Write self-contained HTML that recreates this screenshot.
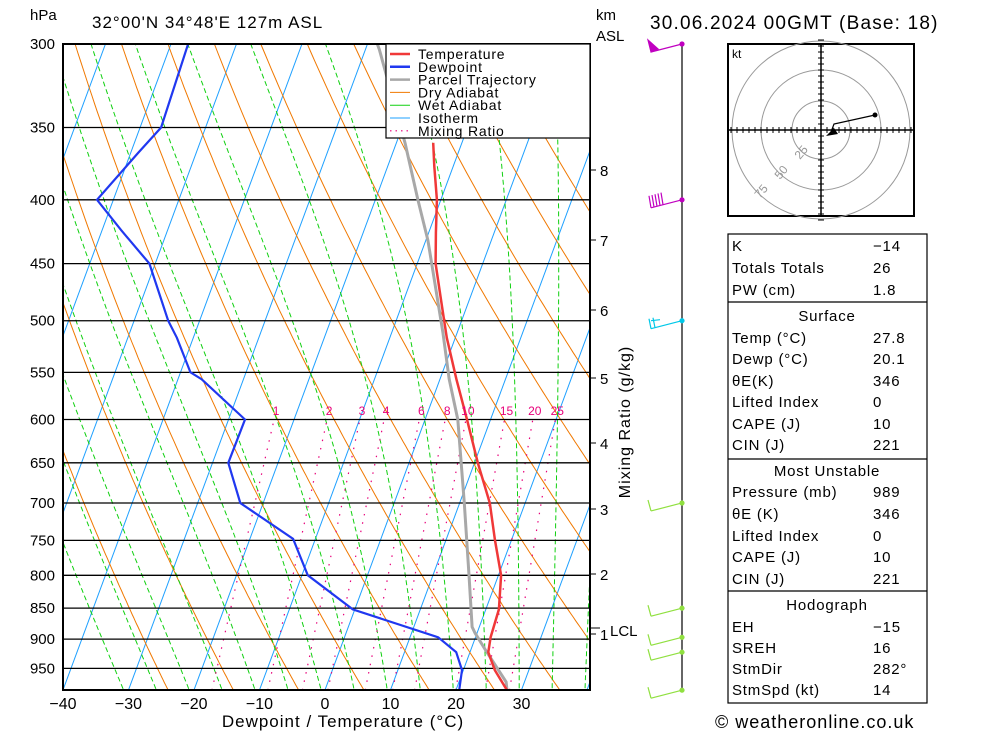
<!DOCTYPE html>
<html><head><meta charset="utf-8">
<style>
body{margin:0;background:#fff;}
svg{display:block;font-family:"Liberation Sans",sans-serif;}
</style></head>
<body>
<svg id="chart" width="1000" height="733" viewBox="0 0 1000 733" xmlns="http://www.w3.org/2000/svg">
<defs><clipPath id="plotclip"><rect x="63" y="44" width="527" height="646"/></clipPath></defs>
<g id="bg" clip-path="url(#plotclip)"></g>
<g id="plines"></g>
<g id="profiles" clip-path="url(#plotclip)"></g>
<rect x="63" y="44" width="527" height="646" fill="none" stroke="#000" stroke-width="2"/>
<g id="legend">
<rect x="386" y="44" width="204" height="94" fill="#fff" stroke="#000" stroke-width="1.2"/>
</g>
<g id="ylabels" font-size="15" text-anchor="end"></g>
<g id="xlabels" font-size="16" text-anchor="middle"></g>
<text x="30" y="20" font-size="15">hPa</text>
<text x="92" y="28" font-size="17" letter-spacing="1">32°00'N  34°48'E  127m  ASL</text>
<text x="596" y="20" font-size="15">km</text>
<text x="596" y="41" font-size="15">ASL</text>
<text x="650" y="29" font-size="19" letter-spacing="1.2">30.06.2024  00GMT  (Base: 18)</text>
<text x="343" y="727" font-size="17" text-anchor="middle" letter-spacing="1">Dewpoint / Temperature (°C)</text>
<text x="715" y="728" font-size="18" letter-spacing="1">© weatheronline.co.uk</text>
<text transform="translate(630,422) rotate(-90)" font-size="16" text-anchor="middle" letter-spacing="1">Mixing Ratio (g/kg)</text>
<g id="km"></g>
<g id="wind"></g>
<g id="hodo"></g>
<g id="table" font-size="15" letter-spacing="0.8"></g>
</svg>
<script>
const NS="http://www.w3.org/2000/svg";
// ---- data ----
const pressureLevels=[300,350,400,450,500,550,600,650,700,750,800,850,900,950];
const tempTicks=[-40,-30,-20,-10,0,10,20,30];
const tempP=[360,376,400,425,450,487,516,557,600,650,700,750,800,852,897,922,953,989];
const tempT=[-14.4,-12.9,-10.6,-8.9,-7.2,-3.8,-1.3,2.5,6.4,10.5,14.6,17.5,20.4,22.0,22.3,22.8,24.8,27.8];
const dewP=[300,350,367,400,423,450,500,516,550,557,600,650,700,748,800,852,897,922,953,989];
const dewT=[-57.4,-56.8,-58.9,-62.5,-57.1,-50.9,-44.8,-42.5,-38.5,-36.4,-27.5,-27.6,-23.5,-13.4,-9.1,-0.3,14.3,17.9,19.8,20.5];
const parcelP=[300,303,360,400,431,511,557,600,700,802,880,890,920,974,989];
const parcelT=[-28.5,-27.9,-18.7,-13.5,-9.7,-2.2,1.4,5.0,10.7,15.6,18.9,19.7,22.4,27.2,27.8];
const mixRatios=[1,2,3,4,6,8,10,15,20,25];
const kmLabels=[1,2,3,4,5,6,7,8];
const kmY=[634,574,509,443,378,310,240,170];
const windP=[300,400,500,700,850,897,922,989];
const windCol=["#c000c0","#c000c0","#00c8e8","#90e040","#90e040","#90e040","#90e040","#90e040"];
// ---- axes ----
function yP(p){return 44+541.7*Math.log(p/300);}
function xT(t,p){return 325+6.55*t+0.37*(690-yP(p));}
function el(tag,attrs,parent){const e=document.createElementNS(NS,tag);for(const k in attrs)e.setAttribute(k,attrs[k]);parent.appendChild(e);return e;}
const bg=document.getElementById('bg');
function polyFrom(pts,stroke,w,dash,parent,name){
  const d=pts.map((q,i)=>(i?'L':'M')+q[0].toFixed(1)+' '+q[1].toFixed(1)).join(' ');
  const e=el('path',{d:d,fill:'none',stroke:stroke,'stroke-width':w},parent);
  if(dash)e.setAttribute('stroke-dasharray',dash);
  
  
  return e;
}
const pGrid=[];for(let p=280;p<=1000;p+=5)pGrid.push(p);
// isotherms
for(let t=-130;t<=50;t+=10){
  polyFrom([[xT(t,1000),yP(1000)],[xT(t,280),yP(280)]],'#1ea0ff',1,null,bg,'isotherm');
}
// dry adiabats
for(let th=250;th<=470;th+=10){
  polyFrom(pGrid.map(p=>[xT(th*Math.pow(p/1000,0.2857)-273.15,p),yP(p)]),'#f07800',1,null,bg,'dry-adiabat');
}
// wet adiabats
function es(t){return 6.112*Math.exp(17.67*t/(t+243.5));}
function moist(tC,p){const T=tC+273.15;const rs=0.622*es(tC)/(p-es(tC));const Lv=2.5e6,Rd=287,cp=1005;
  return (Rd*T+Lv*rs)/(p*(cp+Lv*Lv*rs*0.622/(Rd*T*T)));}
for(let tw=-30;tw<=45;tw+=5){
  let t=tw,pts=[];
  for(let p=1000;p>=280;p-=2){pts.push([xT(t,p),yP(p)]);t-=moist(t,p)*2;}
  polyFrom(pts,'#10d010',1,'5,3',bg,'wet-adiabat');
}
// mixing ratio lines
function tdFromW(w,p){const e=w*p/(622+w);const a=Math.log(e/6.112);return 243.5*a/(17.67-a);}
mixRatios.forEach(w=>{
  polyFrom([[xT(tdFromW(w,989),989),yP(989)],[xT(tdFromW(w,600),600),yP(600)]],'#e8007a',1.2,'1.5,7',bg,'mixing-ratio-line');
  const lb=el('text',{x:xT(tdFromW(w,600),600)+2,y:415,'font-size':12,fill:'#e8007a','text-anchor':'middle'},document.getElementById('chart'));
  lb.textContent=w;
  
  
});
// pressure grid & labels
const pl=document.getElementById('plines'),yl=document.getElementById('ylabels');
pressureLevels.forEach(p=>{
  const l=el('line',{x1:63,x2:590,y1:yP(p),y2:yP(p),stroke:'#000','stroke-width':1.3},pl);
  
  
  const t=el('text',{x:55,y:yP(p)+5},yl);t.textContent=p;
  
  
});
const xl=document.getElementById('xlabels');
tempTicks.forEach(t=>{
  const tx=el('text',{x:325+6.55*t,y:709},xl);tx.textContent=(t<0?'\u2212':'')+Math.abs(t);
  
  
});
// profiles
const pr=document.getElementById('profiles');
polyFrom(parcelP.map((p,i)=>[xT(parcelT[i],p),yP(p)]),'#a8a8a8',3,null,pr,'parcel-trajectory-line');
polyFrom(dewP.map((p,i)=>[xT(dewT[i],p),yP(p)]),'#2038f0',2.2,null,pr,'dewpoint-line');
polyFrom(tempP.map((p,i)=>[xT(tempT[i],p),yP(p)]),'#f03838',2.5,null,pr,'temperature-line');
// legend
const lg=document.getElementById('legend');
const legItems=[["Temperature","#f03838",2.5,null],["Dewpoint","#2038f0",2.5,null],["Parcel Trajectory","#a8a8a8",2.5,null],["Dry Adiabat","#f07800",1,null],["Wet Adiabat","#10d010",1,null],["Isotherm","#1ea0ff",1,null],["Mixing Ratio","#e8007a",1.2,"1.5,4"]];
legItems.forEach((it,i)=>{
  const y=54+i*12.8;
  const ln=el('line',{x1:390,x2:410,y1:y,y2:y,stroke:it[1],'stroke-width':it[2]},lg);
  if(it[3])ln.setAttribute('stroke-dasharray',it[3]);
  
  
  const t=el('text',{x:418,y:y+5,'font-size':14,'letter-spacing':0.8},lg);t.textContent=it[0];
  
  
});
// km axis
const km=document.getElementById('km');
kmLabels.forEach((k,i)=>{
  const l=el('line',{x1:590,x2:596,y1:kmY[i],y2:kmY[i],stroke:'#000'},km);
  
  
  const t=el('text',{x:600,y:kmY[i]+6,'font-size':15},km);t.textContent=k;
  
  
});
const lcl=el('text',{x:610,y:636,'font-size':15},km);lcl.textContent='LCL';


el('line',{x1:590,x2:600,y1:628,y2:628,stroke:'#000'},km);
// wind barbs
const wd=document.getElementById('wind');
const ax=el('line',{x1:682,x2:682,y1:44,y2:690,stroke:'#000','stroke-width':1.2},wd);


windP.forEach((p,i)=>{
  const y=yP(p),c=windCol[i];
  const g=el('g',{stroke:c,fill:c,'stroke-width':1.2},wd);
  
  
  el('circle',{cx:682,cy:y,r:2.6,stroke:'none'},g);
  el('line',{x1:682,y1:y,x2:651,y2:y+8},g);
  if(i===0){el('polygon',{points:(651)+','+(y+8)+' 648,'+(y-4)+' 658,'+(y+5)},g);}
  else if(i===1){for(let k=0;k<5;k++)el('line',{x1:651+k*3,y1:y+8-k*0.8,x2:649+k*3,y2:y-4-k*0.8},g);}
  else if(i===2){el('line',{x1:651,y1:y+8,x2:649,y2:y-2},g);el('line',{x1:655,y1:y+7,x2:653,y2:y-3},g);el('line',{x1:651,y1:y,x2:660,y2:y-1},g);}
  else {el('line',{x1:651,y1:y+8,x2:648,y2:y-3},g);}
});
// hodograph
const hd=document.getElementById('hodo');
const hr=el('rect',{x:728,y:44,width:186,height:172,fill:'#fff',stroke:'#000','stroke-width':2},hd);


[29,60,89].forEach(r=>{
  const c=el('circle',{cx:821,cy:130,r:r,fill:'none',stroke:'#999'},hd);
  
  
});
el('line',{x1:728,x2:914,y1:130,y2:130,stroke:'#000','stroke-width':1.5},hd);
el('line',{x1:821,x2:821,y1:44,y2:216,stroke:'#000','stroke-width':1.5},hd);
for(let k=-15;k<=15;k++){if(!k)continue;
  el('line',{x1:821+k*6,x2:821+k*6,y1:127,y2:133,stroke:'#000'},hd);
  el('line',{x1:818,x2:824,y1:130+k*6,y2:130+k*6,stroke:'#000'},hd);}
[["25",800,160],["50",780,180],["75",760,199]].forEach(a=>{
  const t=el('text',{x:a[1],y:a[2],'font-size':12,fill:'#999',transform:'rotate(-50 '+a[1]+' '+a[2]+')'},hd);t.textContent=a[0];
  
  
});
const kt=el('text',{x:732,y:58,'font-size':12},hd);kt.textContent='kt';
el('polyline',{points:'831,132 834,124 875,115',fill:'none',stroke:'#000','stroke-width':1.2},hd);
el('circle',{cx:875,cy:115,r:2.5},hd);
el('polygon',{points:'826,136 834,128 838,134'},hd);
// table
const tb=document.getElementById('table');
const rows=[
["K","\u221214",246],["Totals Totals","26",268],["PW (cm)","1.8",290],null,["hdr","Surface",316],
["Temp (°C)","27.8",338],["Dewp (°C)","20.1",359],["θE(K)","346",381],["Lifted Index","0",402],["CAPE (J)","10",424],["CIN (J)","221",445],null,
["hdr","Most Unstable",471],["Pressure (mb)","989",492],["θE (K)","346",514],["Lifted Index","0",536],["CAPE (J)","10",557],["CIN (J)","221",579],null,
["hdr","Hodograph",605],["EH","\u221215",627],["SREH","16",648],["StmDir","282°",669],["StmSpd (kt)","14",690]];
const tr=el('rect',{x:728,y:234,width:199,height:469,fill:'#fff',stroke:'#000','stroke-width':1.2},tb);


[302,459,591].forEach(y=>el('line',{x1:728,x2:927,y1:y,y2:y,stroke:'#000','stroke-width':1.2},tb));
rows.forEach(r=>{if(!r)return;
  if(r[0]==='hdr'){const t=el('text',{x:827,y:r[2]+5,'text-anchor':'middle'},tb);t.textContent=r[1];
    
    return;}
  const a=el('text',{x:732,y:r[2]+5},tb);a.textContent=r[0];
  
  
  const b=el('text',{x:873,y:r[2]+5},tb);b.textContent=r[1];
  
  
});
</script>
</body></html>
